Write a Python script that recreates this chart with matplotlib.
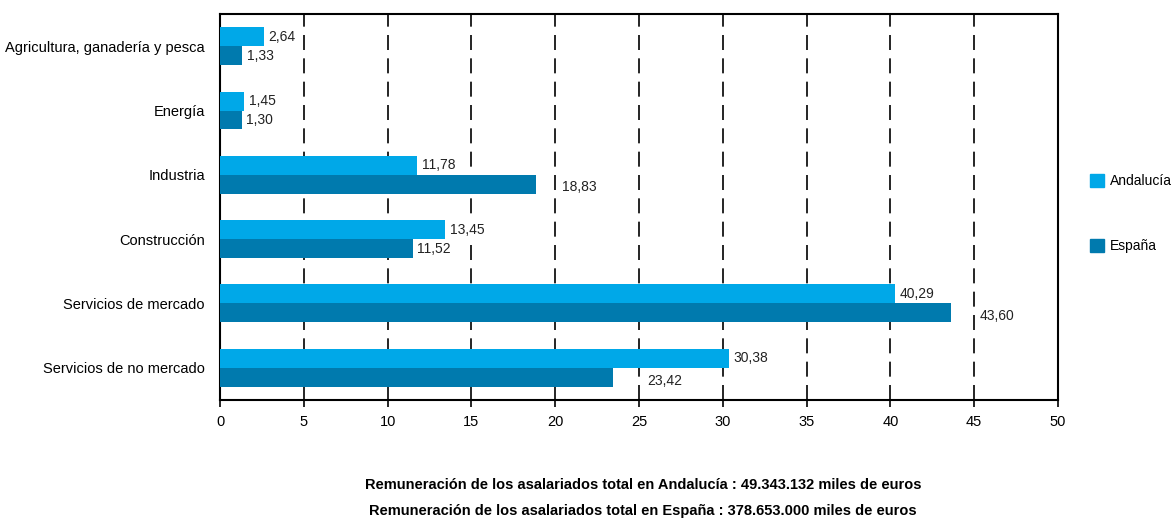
import matplotlib
matplotlib.use("Agg")
import matplotlib.pyplot as plt
import numpy as np
from matplotlib.patches import Patch

plt.rcParams['font.family'] = ['Liberation Sans', 'DejaVu Sans']

categories = ["Agricultura, ganadería y pesca", "Energía", "Industria",
              "Construcción", "Servicios de mercado", "Servicios de no mercado"]
andalucia = [2.64, 1.45, 11.78, 13.45, 40.29, 30.38]
espana = [1.33, 1.30, 18.83, 11.52, 43.60, 23.42]
series_names = ["Andalucía", "España"]
notes = ["Remuneración de los asalariados total en Andalucía : 49.343.132 miles de euros",
         "Remuneración de los asalariados total en España : 378.653.000 miles de euros"]

c_and = "#00a8e8"
c_esp = "#007aae"

# label nudges (points) for the España labels, as in the original
esp_dx = [0, 0, 16, 0, 18, 22]
esp_dy = [0, 0, -2, 0, -2, -3]

fig = plt.figure(figsize=(11.73, 5.2), dpi=100)
ax = fig.add_axes([0.1876, 0.231, 0.7144, 0.742])

y = np.arange(len(categories))
h = 0.295
ax.barh(y - h / 2, andalucia, height=h, color=c_and, zorder=3)
ax.barh(y + h / 2, espana, height=h, color=c_esp, zorder=3)

fmt = lambda v: f"{v:.2f}".replace(".", ",")
for i in range(len(categories)):
    ax.annotate(fmt(andalucia[i]), (andalucia[i], y[i] - h / 2), xytext=(3, 0),
                textcoords="offset points", va="center", ha="left", fontsize=10,
                color="#222222", zorder=4,
                bbox=dict(boxstyle="square,pad=0.1", fc="white", ec="none"))
    ax.annotate(fmt(espana[i]), (espana[i], y[i] + h / 2), xytext=(3 + esp_dx[i], esp_dy[i]),
                textcoords="offset points", va="center", ha="left", fontsize=10,
                color="#222222", zorder=4,
                bbox=dict(boxstyle="square,pad=0.1", fc="white", ec="none"))

ax.set_xlim(0, 50)
ax.set_ylim(len(categories) - 0.5, -0.5)
ax.set_xticks(np.arange(0, 51, 5))
ax.set_yticks(y)
ax.set_yticklabels(categories, fontsize=10.5)
ax.tick_params(axis='x', labelsize=10.5, direction='out', length=5, width=1.2, pad=6)
ax.tick_params(axis='y', length=0, pad=11)
ax.xaxis.grid(True, color="black", linestyle=(0, (9, 5)), linewidth=1.2, zorder=1)
ax.set_axisbelow(True)
for s in ax.spines.values():
    s.set_linewidth(1.5)

handles = [Patch(color=c_and), Patch(color=c_esp)]
fig.legend(handles, series_names, loc="center left", bbox_to_anchor=(0.927, 0.589),
           frameon=False, fontsize=10, handlelength=1.0, handleheight=1.0,
           handletextpad=0.4, labelspacing=3.65, borderaxespad=0, borderpad=0.2)

fig.text(0.548, 0.067, notes[0], ha="center", va="center", fontsize=10.5, fontweight="bold")
fig.text(0.548, 0.017, notes[1], ha="center", va="center", fontsize=10.5, fontweight="bold")

fig.savefig("out.png", dpi=100)
